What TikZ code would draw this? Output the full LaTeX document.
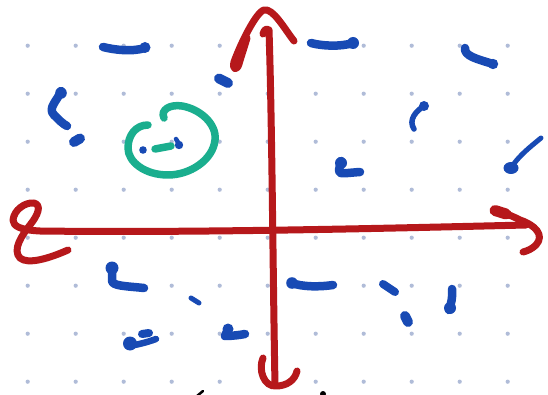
\documentclass[tikz,border=0pt]{standalone}
\usepackage{tikz}
\definecolor{axred}{RGB}{182,24,27}
\definecolor{penblue}{RGB}{24,74,180}
\definecolor{pengreen}{RGB}{26,174,142}
\definecolor{griddot}{RGB}{176,188,216}
\tikzset{
  redpen/.style={draw=axred,line width=7pt,line cap=round,line join=round},
  bluepen/.style={draw=penblue,line width=8.5pt,line cap=round,line join=round},
  greenpen/.style={draw=pengreen,line width=7.5pt,line cap=round,line join=round},
  blueblob/.style={fill=penblue},
}
\begin{document}
\begin{tikzpicture}[x=1pt,y=-1pt]
\fill[white] (0,0) rectangle (548,395);
\useasboundingbox (0,0) rectangle (548,395);
% dot grid
\foreach \i in {0,...,10}{
  \foreach \j in {0,...,7}{
    \fill[griddot] (27.7+48*\i,45.7+48*\j) circle (2.1pt);
  }
}
% ---- blue marks ----
\draw[bluepen] (103,47) .. controls (115,50) and (132,52) .. (145,48);
\fill[blueblob] (145,47.5) circle (5.5pt);
\draw[bluepen,line width=10pt] (219,78.5) -- (228,83);
\draw[bluepen] (61,91) .. controls (58,100) and (47,108) .. (54,115) .. controls (59,120) and (63,124) .. (67,126);
\fill[blueblob] (61,93) circle (5.8pt);
\draw[bluepen,line width=10pt] (74,142) -- (80,138.5);
\fill[blueblob] (143,150) circle (3.8pt);
\draw[bluepen,line width=4.5pt] (176,139) -- (179,144);
\fill[blueblob] (179,145) circle (4.2pt);
\draw[bluepen] (311,43) .. controls (322,46) and (340,47) .. (353,43);
\fill[blueblob] (353,43) circle (6pt);
\draw[bluepen] (465,48) .. controls (464,56) and (477,59) .. (493,64);
\fill[blueblob] (493,64) circle (5.2pt);
\draw[bluepen,line width=5.5pt] (424,106) .. controls (416,111) and (408,120) .. (414,129);
\fill[blueblob] (424,106) circle (5pt);
\draw[bluepen] (341,161) -- (339,170) .. controls (338,175) and (345,173) .. (360,172);
\fill[blueblob] (341,163) circle (6pt);
\draw[bluepen,line width=5pt] (541,138) .. controls (530,147) and (520,155) .. (513,165);
\fill[blueblob] (511,168) ellipse (7.5pt and 6pt);
\draw[bluepen] (112,267) -- (112,281) .. controls (113,286) and (125,286) .. (144,288);
\fill[blueblob] (112,268) circle (6.5pt);
\draw[bluepen,line width=5pt] (191,298) -- (199,303);
\fill[blueblob] (130,343.5) circle (7pt);
\draw[bluepen,line width=6.5pt] (128,346) .. controls (137,345) and (148,342) .. (156,339);
\draw[bluepen,line width=8pt] (142,334) -- (149,333);
\draw[bluepen] (228,329) -- (225,336) .. controls (232,336) and (240,335) .. (245,334);
\fill[blueblob] (228,329) circle (5.5pt);
\draw[bluepen] (292,283) .. controls (302,287) and (320,287) .. (333,285);
\fill[blueblob] (292,283) circle (5.8pt);
\draw[bluepen,line width=8pt] (383,284) -- (395,292);
\draw[bluepen,line width=10pt] (405,316) -- (408,322);
\draw[bluepen] (452,289) .. controls (453,297) and (451,304) .. (449,310);
\fill[blueblob] (450,308) circle (6pt);
% ---- green circle ----
\draw[greenpen] (164,118) .. controls (160,110) and (170,104) .. (182,106)
  .. controls (200,109) and (217,124) .. (215,140)
  .. controls (213,160) and (190,175) .. (168,175)
  .. controls (145,175) and (128,162) .. (128,148)
  .. controls (128,135) and (136,125) .. (148,125);
\draw[greenpen,line width=7.5pt] (155,149) -- (171,146);
% ---- red axes ----
\draw[redpen] (263,34) .. controls (264,30) and (266,28) .. (269,30)
  .. controls (272,120) and (273,280) .. (275,385);
\draw[redpen] (263,358) .. controls (258,370) and (264,387) .. (276,386)
  .. controls (287,386) and (295,380) .. (297,371);
\draw[redpen] (294,41) .. controls (284,28) and (273,8) .. (264,10)
  .. controls (256,12) and (240,45) .. (234,62)
  .. controls (232,70) and (237,71) .. (239,64)
  .. controls (241,57) and (245,45) .. (247,38);
\draw[redpen] (68,250) .. controls (50,258) and (28,265) .. (20,258)
  .. controls (12,250) and (22,235) .. (30,225)
  .. controls (38,215) and (42,205) .. (34,203)
  .. controls (25,202) and (14,210) .. (13,220)
  .. controls (13,226) and (20,230) .. (40,231)
  .. controls (200,233) and (400,228) .. (526,225);
\draw[redpen,line width=11pt] (495,210.5) -- (506,214);
\draw[redpen] (500,212) .. controls (508,214) and (514,217) .. (520,220)
  .. controls (535,225) and (545,235) .. (536,245)
  .. controls (532,249) and (527,251) .. (523,252);
% ---- black marks at bottom ----
\draw[black,line width=2.5pt,line cap=round] (197,396) -- (203,391);
\fill[black] (323,394) circle (3pt);
\end{tikzpicture}
\end{document}
